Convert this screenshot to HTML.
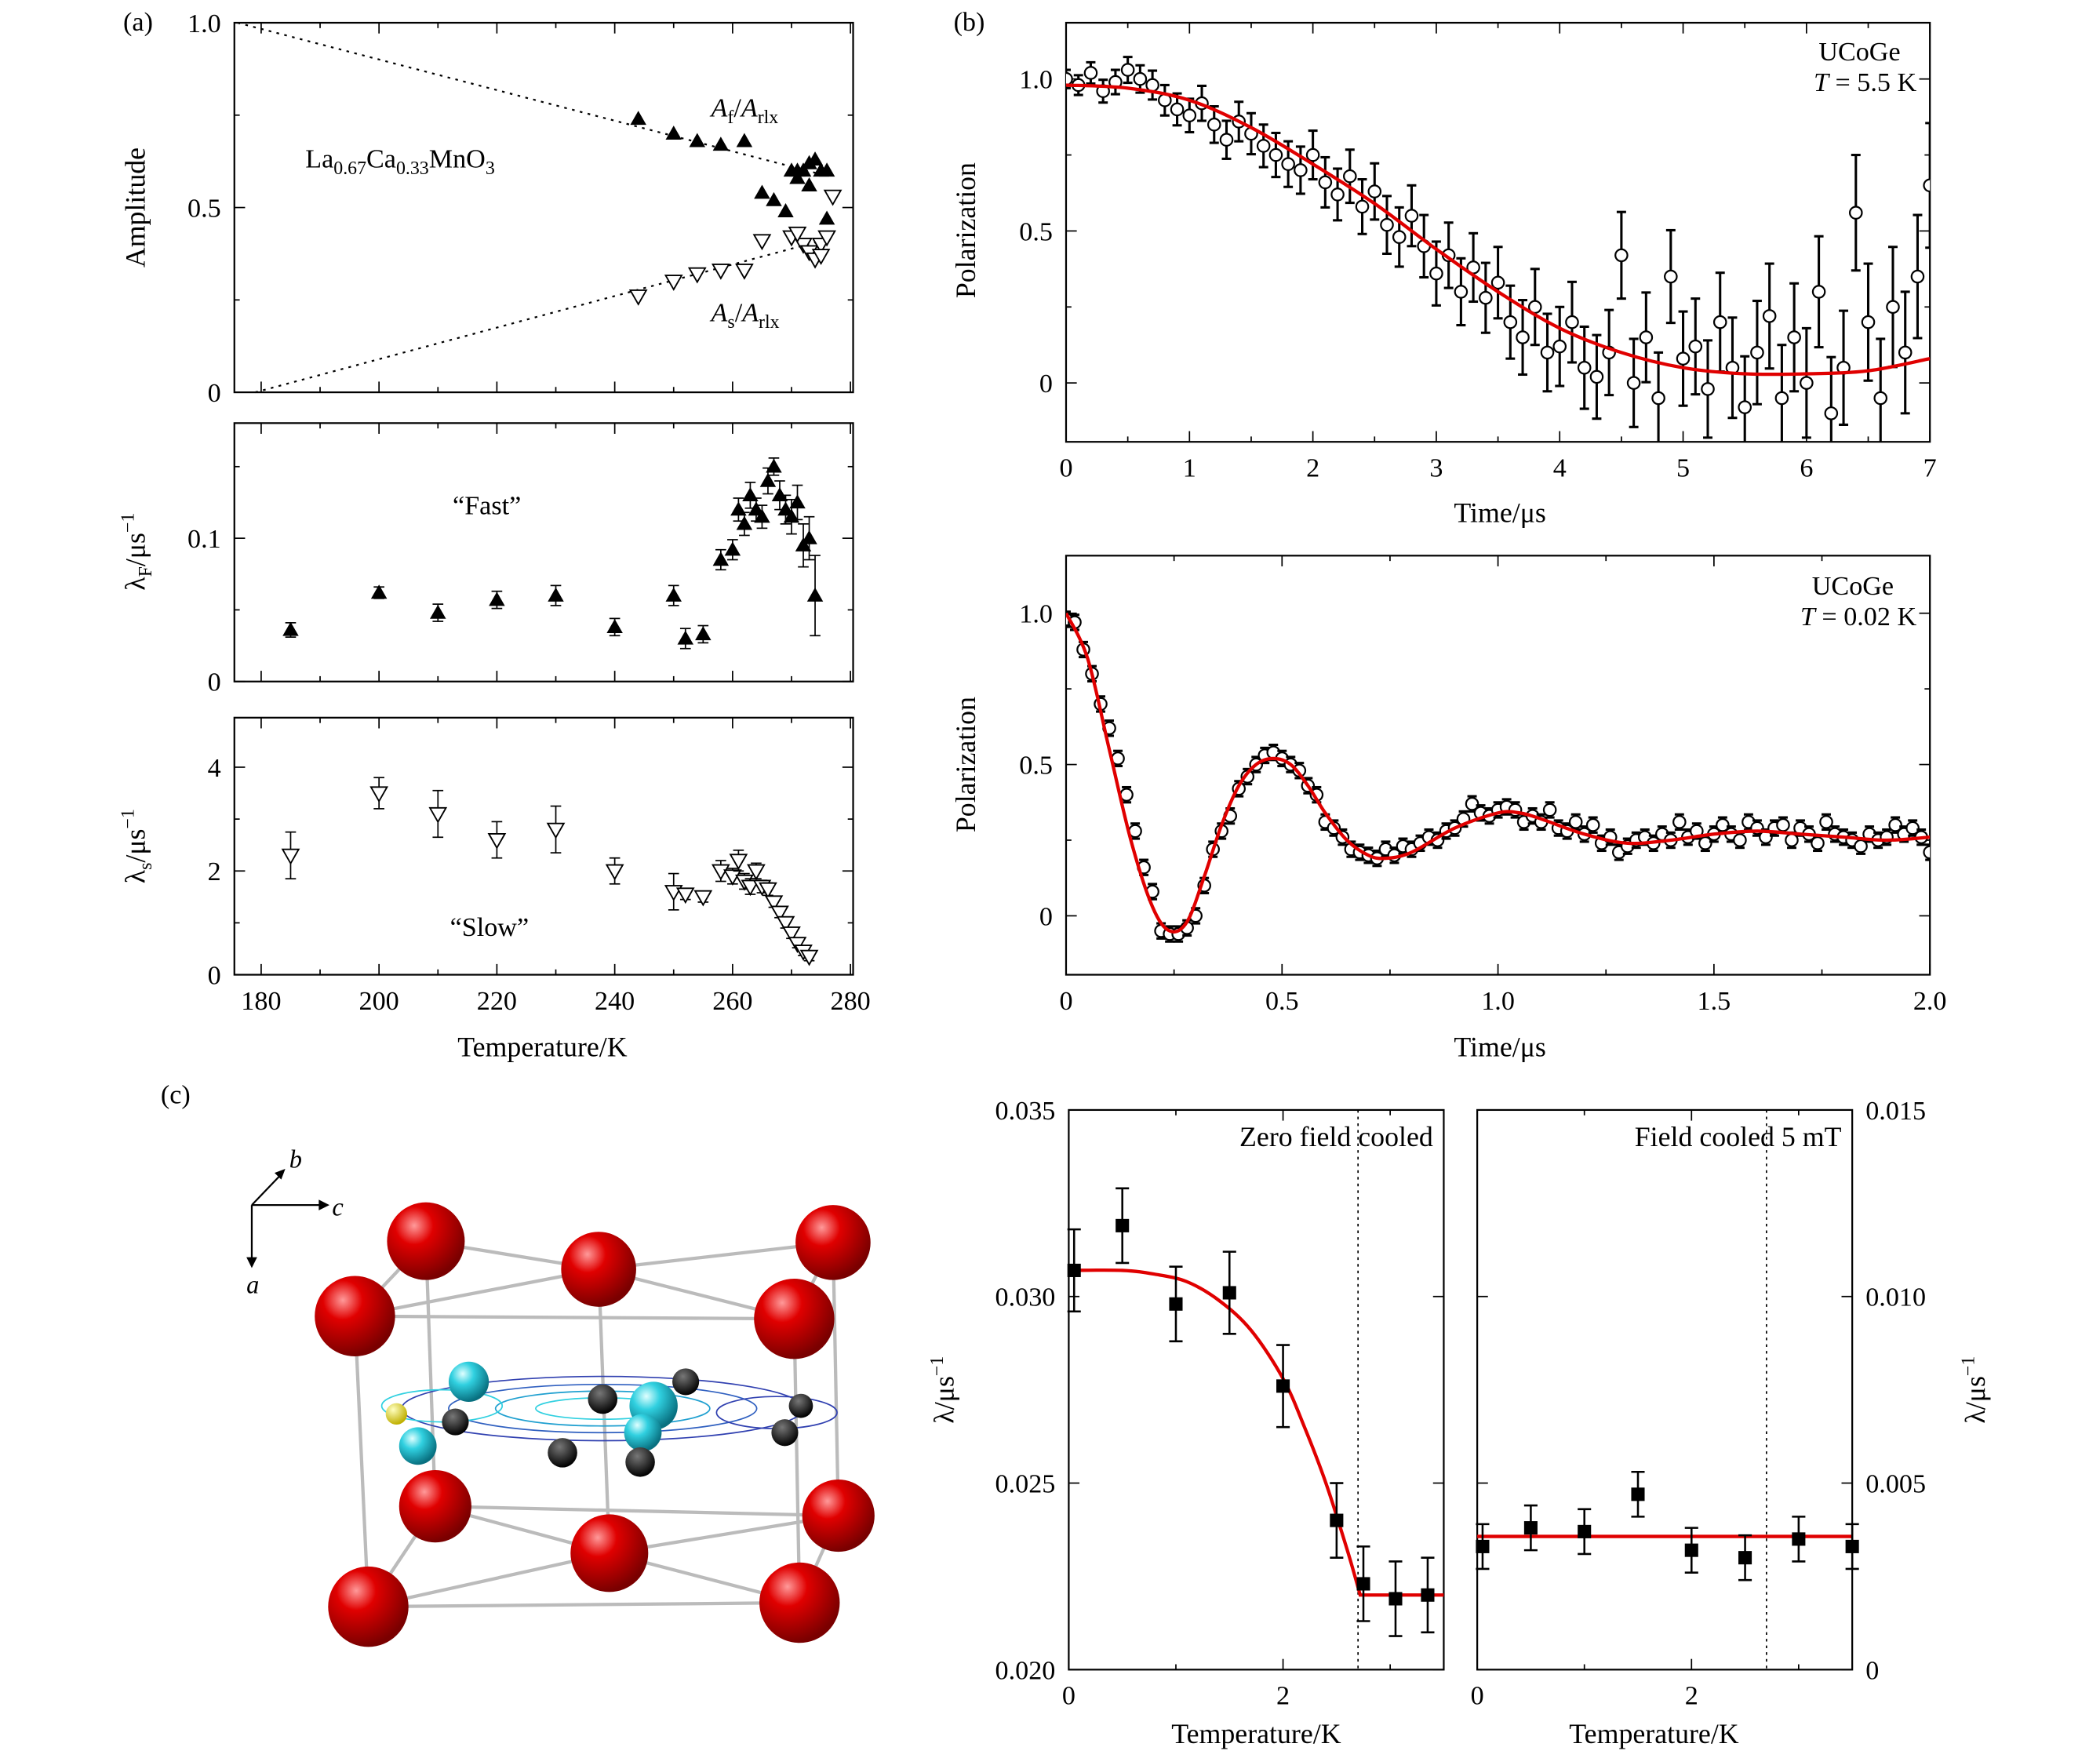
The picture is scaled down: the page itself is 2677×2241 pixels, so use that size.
<!DOCTYPE html>
<html><head><meta charset="utf-8"><style>
html,body{margin:0;padding:0;background:#fff;}
svg{display:block;font-family:"Liberation Serif",serif;}
</style></head><body>
<svg id="fig" width="2677" height="2241" viewBox="0 0 1568 1313" preserveAspectRatio="none" xmlns="http://www.w3.org/2000/svg">
<defs>
<radialGradient id="red" cx="35%" cy="30%" r="70%"><stop offset="0" stop-color="#ff9a9a"/><stop offset="0.35" stop-color="#e00000"/><stop offset="1" stop-color="#7a0000"/></radialGradient>
<radialGradient id="cyan" cx="35%" cy="30%" r="70%"><stop offset="0" stop-color="#e0ffff"/><stop offset="0.4" stop-color="#30d0e0"/><stop offset="1" stop-color="#087080"/></radialGradient>
<radialGradient id="blk" cx="40%" cy="30%" r="70%"><stop offset="0" stop-color="#777"/><stop offset="1" stop-color="#000"/></radialGradient>
<radialGradient id="yel" cx="35%" cy="30%" r="70%"><stop offset="0" stop-color="#ffffc0"/><stop offset="1" stop-color="#c0b000"/></radialGradient>
<clipPath id="clipB1"><rect x="796" y="17" width="645" height="313"/></clipPath>
<clipPath id="clipB2"><rect x="796" y="415" width="645" height="313"/></clipPath>
</defs>
<g id="crystal">
 <g stroke="#bbb" stroke-width="2.5" fill="none">
  <line x1="318" y1="927" x2="447" y2="948"/><line x1="447" y1="948" x2="622" y2="928"/>
  <line x1="265" y1="983" x2="593" y2="985"/><line x1="318" y1="927" x2="265" y2="983"/>
  <line x1="622" y1="928" x2="593" y2="985"/><line x1="265" y1="983" x2="275" y2="1200"/>
  <line x1="593" y1="985" x2="597" y2="1197"/><line x1="318" y1="927" x2="325" y2="1125"/>
  <line x1="622" y1="928" x2="626" y2="1132"/><line x1="275" y1="1200" x2="597" y2="1197"/>
  <line x1="325" y1="1125" x2="626" y2="1132"/><line x1="275" y1="1200" x2="325" y2="1125"/>
  <line x1="597" y1="1197" x2="626" y2="1132"/><line x1="447" y1="948" x2="455" y2="1160"/>
  <line x1="325" y1="1125" x2="455" y2="1160"/><line x1="455" y1="1160" x2="626" y2="1132"/>
  <line x1="275" y1="1200" x2="455" y2="1160"/><line x1="455" y1="1160" x2="597" y2="1197"/>
  <line x1="265" y1="983" x2="447" y2="948"/><line x1="447" y1="948" x2="593" y2="985"/>
 </g>
 <g fill="none" stroke-width="1">
  <ellipse cx="450" cy="1052" rx="150" ry="24" stroke="#3040b0"/>
  <ellipse cx="450" cy="1052" rx="115" ry="18" stroke="#3060c0"/>
  <ellipse cx="450" cy="1052" rx="80" ry="13" stroke="#20a0d0"/>
  <ellipse cx="450" cy="1052" rx="50" ry="8" stroke="#30d0e0"/>
  <ellipse cx="330" cy="1050" rx="45" ry="12" stroke="#30d0e0"/>
  <ellipse cx="580" cy="1055" rx="45" ry="12" stroke="#3040b0"/>
 </g>
 <circle cx="350" cy="1032" r="15" fill="url(#cyan)"/><circle cx="488" cy="1050" r="18" fill="url(#cyan)"/>
 <circle cx="312" cy="1080" r="14" fill="url(#cyan)"/><circle cx="480" cy="1070" r="14" fill="url(#cyan)"/>
 <circle cx="296" cy="1056" r="8" fill="url(#yel)"/>
 <circle cx="340" cy="1062" r="10" fill="url(#blk)"/><circle cx="450" cy="1045" r="11" fill="url(#blk)"/>
 <circle cx="512" cy="1032" r="10" fill="url(#blk)"/><circle cx="420" cy="1085" r="11" fill="url(#blk)"/>
 <circle cx="478" cy="1092" r="11" fill="url(#blk)"/><circle cx="586" cy="1070" r="10" fill="url(#blk)"/>
 <circle cx="598" cy="1050" r="9" fill="url(#blk)"/>
 <g fill="url(#red)">
  <circle cx="318" cy="927" r="29"/><circle cx="447" cy="948" r="28"/><circle cx="622" cy="928" r="28"/>
  <circle cx="265" cy="983" r="30"/><circle cx="593" cy="985" r="30"/><circle cx="325" cy="1125" r="27"/>
  <circle cx="626" cy="1132" r="27"/><circle cx="455" cy="1160" r="29"/><circle cx="275" cy="1200" r="30"/>
  <circle cx="597" cy="1197" r="30"/>
 </g>
 <g stroke="#000" stroke-width="1.3" fill="none">
  <line x1="188" y1="900" x2="211" y2="876"/><line x1="188" y1="900" x2="240" y2="900"/><line x1="188" y1="900" x2="188" y2="942"/>
 </g>
 <g fill="#000"><path d="M213,873 l-8,3 l5,5z"/><path d="M246,900 l-8,-4 l0,8z"/><path d="M188,947 l-4,-8 l8,0z"/></g>
 <g font-style="italic" font-size="19"><text x="216" y="872">b</text><text x="248" y="908">c</text><text x="184" y="966">a</text></g>
</g>
<g id="panel-labels" font-size="20">
 <text x="92" y="23">(a)</text>
 <text x="712" y="23">(b)</text>
 <text x="120" y="824">(c)</text>
</g>
<g id="plots"></g>
</svg>
<script>
// ---------- data ----------
const afT=[244,250,254,258,262,265,267,269,270,271,272,273,274,275,276,276,273,271];
const afV=[0.74,0.70,0.68,0.67,0.68,0.54,0.52,0.49,0.60,0.60,0.60,0.62,0.63,0.60,0.60,0.47,0.56,0.58];
const asT=[244,250,254,258,262,265,270,272,273,274,275,276,277,271,275];
const asV=[0.26,0.30,0.32,0.33,0.33,0.41,0.42,0.40,0.38,0.36,0.40,0.42,0.53,0.43,0.37];
const lfT=[185,200,210,220,230,240,250,252,255,258,260,261,262,263,264,265,266,267,268,269,270,271,272,273,274];
const lfV=[0.036,0.062,0.048,0.057,0.060,0.038,0.060,0.030,0.033,0.085,0.092,0.120,0.110,0.130,0.120,0.115,0.140,0.150,0.130,0.120,0.115,0.125,0.095,0.100,0.060];
const lfE=[0.005,0.004,0.006,0.006,0.007,0.006,0.007,0.007,0.006,0.007,0.007,0.008,0.008,0.009,0.008,0.008,0.009,0.006,0.010,0.010,0.012,0.012,0.015,0.015,0.028];
const lsT=[185,200,210,220,230,240,250,252,255,258,260,261,262,263,264,265,266,267,268,269,270,271,272,273];
const lsV=[2.3,3.5,3.1,2.6,2.8,2.0,1.6,1.55,1.5,2.0,1.9,2.2,1.8,1.7,2.0,1.7,1.65,1.4,1.2,1.0,0.8,0.6,0.45,0.35];
const lsE=[0.45,0.3,0.45,0.35,0.45,0.25,0.35,0.1,0.1,0.2,0.15,0.2,0.15,0.15,0.15,0.12,0.12,0.1,0.1,0.1,0.1,0.08,0.08,0.08];
const b1Step=0.1;
const b1V=[1.00,0.98,1.02,0.96,0.99,1.03,1.00,0.98,0.93,0.90,0.88,0.92,0.85,0.80,0.86,0.82,0.78,0.75,0.72,0.70,0.75,0.66,0.62,0.68,0.58,0.63,0.52,0.48,0.55,0.45,0.36,0.42,0.30,0.38,0.28,0.33,0.20,0.15,0.25,0.10,0.12,0.20,0.05,0.02,0.10,0.42,0.00,0.15,-0.05,0.35,0.08,0.12,-0.02,0.20,0.05,-0.08,0.10,0.22,-0.05,0.15,0.00,0.30,-0.10,0.05,0.56,0.20,-0.05,0.25,0.10,0.35,0.65];
const b1FitT=[0,0.5,1,1.5,2,2.5,3,3.5,4,4.5,5,5.5,6,6.5,7];
const b1FitV=[0.98,0.97,0.93,0.84,0.72,0.59,0.44,0.30,0.18,0.10,0.05,0.03,0.03,0.04,0.08];
const b2Step=0.02;
const b2V=[0.98,0.97,0.88,0.80,0.70,0.62,0.52,0.40,0.28,0.16,0.08,-0.05,-0.06,-0.06,-0.04,0.00,0.10,0.22,0.28,0.33,0.42,0.46,0.50,0.53,0.54,0.52,0.50,0.48,0.43,0.40,0.31,0.29,0.26,0.22,0.21,0.20,0.19,0.22,0.20,0.23,0.22,0.24,0.26,0.25,0.28,0.29,0.32,0.37,0.34,0.33,0.35,0.36,0.35,0.31,0.33,0.31,0.35,0.29,0.28,0.31,0.27,0.30,0.24,0.26,0.21,0.23,0.25,0.26,0.24,0.27,0.25,0.31,0.26,0.28,0.24,0.27,0.30,0.27,0.25,0.31,0.29,0.26,0.29,0.30,0.25,0.29,0.27,0.24,0.31,0.27,0.26,0.25,0.23,0.27,0.25,0.26,0.30,0.27,0.29,0.26,0.21];
const b2FitT=[0,0.05,0.1,0.15,0.2,0.24,0.28,0.32,0.36,0.4,0.44,0.48,0.52,0.56,0.6,0.65,0.7,0.74,0.8,0.9,1.0,1.05,1.1,1.2,1.3,1.4,1.5,1.6,1.7,1.8,1.9,2.0];
const b2FitV=[1.0,0.85,0.55,0.25,0.03,-0.05,-0.02,0.13,0.30,0.43,0.50,0.52,0.50,0.43,0.34,0.25,0.20,0.19,0.21,0.29,0.34,0.34,0.32,0.27,0.24,0.25,0.27,0.28,0.27,0.26,0.25,0.26];
const c1T=[0.05,0.5,1.0,1.5,2.0,2.5,2.75,3.05,3.35];
const c1V=[0.0307,0.0319,0.0298,0.0301,0.0276,0.0240,0.0223,0.0219,0.0220];
const c1E=[0.0011,0.0010,0.0010,0.0011,0.0011,0.0010,0.0010,0.0010,0.0010];
const c1FitT=[0,0.5,0.8,1.1,1.4,1.7,2.0,2.2,2.4,2.6,2.72,3.5];
const c1FitV=[0.0307,0.0307,0.0306,0.0304,0.0299,0.0291,0.0278,0.0265,0.0250,0.0232,0.0220,0.0220];
const c2T=[0.05,0.5,1.0,1.5,2.0,2.5,3.0,3.5];
const c2V=[0.0033,0.0038,0.0037,0.0047,0.0032,0.0030,0.0035,0.0033];
const c2E=[0.0006,0.0006,0.0006,0.0006,0.0006,0.0006,0.0006,0.0006];
const c2Fit=[0.00357];
// ---------- helpers ----------
const NS="http://www.w3.org/2000/svg";
const root=document.getElementById('plots');
function mk(tag,attrs,parent){const e=document.createElementNS(NS,tag);for(const k in attrs)e.setAttribute(k,attrs[k]);(parent||root).appendChild(e);return e;}
function txt(s,x,y,opt,parent){const e=mk('text',Object.assign({x:x,y:y,'font-size':20},opt||{}),parent);e.innerHTML=s;return e;}
function scale(d0,d1,p0,p1){return v=>p0+(v-d0)*(p1-p0)/(d1-d0);}
function frame(x0,y0,x1,y1,name){const r=mk('rect',{x:x0,y:y0,width:x1-x0,height:y1-y0,fill:'none',stroke:'#000','stroke-width':1.3});

return r;}
function xticks(sx,vals,labels,y0,y1,name,minor){vals.forEach((v,i)=>{const x=sx(v);mk('line',{x1:x,x2:x,y1:y1,y2:y1-8,stroke:'#000'});mk('line',{x1:x,x2:x,y1:y0,y2:y0+8,stroke:'#000'});
if(labels){const t=txt(labels[i],x,y1+26,{'text-anchor':'middle'});

}});
(minor||[]).forEach(v=>{const x=sx(v);mk('line',{x1:x,x2:x,y1:y1,y2:y1-4,stroke:'#000'});mk('line',{x1:x,x2:x,y1:y0,y2:y0+4,stroke:'#000'});});}
function yticks(sy,vals,labels,x0,x1,name,side,minor){vals.forEach((v,i)=>{const y=sy(v);mk('line',{x1:x0,x2:x0+8,y1:y,y2:y,stroke:'#000'});mk('line',{x1:x1,x2:x1-8,y1:y,y2:y,stroke:'#000'});
if(labels){const t=side==='r'?txt(labels[i],x1+10,y+7,{}):txt(labels[i],x0-10,y+7,{'text-anchor':'end'});

}});
(minor||[]).forEach(v=>{const y=sy(v);mk('line',{x1:x0,x2:x0+4,y1:y,y2:y,stroke:'#000'});mk('line',{x1:x1,x2:x1-4,y1:y,y2:y,stroke:'#000'});});}
function ylabel(s,x,y,name){const t=txt(s,x,y,{transform:`rotate(-90 ${x} ${y})`,'text-anchor':'middle','font-size':21});

}
function errbar(g,x,y1,y2,w,sw){mk('line',{x1:x,x2:x,y1:y1,y2:y2,stroke:'#000','stroke-width':sw},g);mk('line',{x1:x-w,x2:x+w,y1:y1,y2:y1,stroke:'#000','stroke-width':sw},g);mk('line',{x1:x-w,x2:x+w,y1:y2,y2:y2,stroke:'#000','stroke-width':sw},g);}
function triUp(g,x,y,s){return mk('path',{d:`M${x},${y-s} L${x+s},${y+s*0.75} L${x-s},${y+s*0.75}Z`,fill:'#000'},g);}
function triDn(g,x,y,s){return mk('path',{d:`M${x},${y+s} L${x+s},${y-s*0.75} L${x-s},${y-s*0.75}Z`,fill:'#fff',stroke:'#000','stroke-width':1.1},g);}
function smooth(pts){let d=`M${pts[0][0]},${pts[0][1]}`;for(let i=0;i<pts.length-1;i++){const p0=pts[i-1]||pts[i],p1=pts[i],p2=pts[i+1],p3=pts[i+2]||p2;
d+=` C${p1[0]+(p2[0]-p0[0])/6},${p1[1]+(p2[1]-p0[1])/6} ${p2[0]-(p3[0]-p1[0])/6},${p2[1]-(p3[1]-p1[1])/6} ${p2[0]},${p2[1]}`;}return d;}

// ---------- panel (a) ----------
const ax=scale(180,280,195,635);
frame(175,17,637,293,'amplitude-plot-frame');
const a1y=scale(0,1,293,17);
xticks(ax,[180,200,220,240,260,280],null,17,293,'a1-x',[190,210,230,250,270]);
yticks(a1y,[0,0.5,1],['0','0.5','1.0'],175,637,'amplitude-y',null,[0.25,0.75]);
ylabel('Amplitude',108,155,'amplitude-y-title');
let g=mk('g',{});


mk('line',{x1:ax(176),y1:a1y(1.0),x2:ax(275),y2:a1y(0.59),stroke:'#000','stroke-dasharray':'2,4','stroke-width':1.3},g);
mk('line',{x1:ax(179),y1:a1y(0),x2:ax(275),y2:a1y(0.41),stroke:'#000','stroke-dasharray':'2,4','stroke-width':1.3},g);
g=mk('g',{});


afT.forEach((t,i)=>{const p=triUp(g,ax(t),a1y(afV[i]),6);

});
g=mk('g',{});


asT.forEach((t,i)=>{const p=triDn(g,ax(t),a1y(asV[i]),6);

});
let t1=txt('La<tspan font-size="14" dy="5">0.67</tspan><tspan dy="-5">Ca</tspan><tspan font-size="14" dy="5">0.33</tspan><tspan dy="-5">MnO</tspan><tspan font-size="14" dy="5">3</tspan>',228,125,{});


t1=txt('<tspan font-style="italic">A</tspan><tspan font-size="14" dy="5">f</tspan><tspan dy="-5">/</tspan><tspan font-style="italic">A</tspan><tspan font-size="14" dy="5">rlx</tspan>',531,87,{});


t1=txt('<tspan font-style="italic">A</tspan><tspan font-size="14" dy="5">s</tspan><tspan dy="-5">/</tspan><tspan font-style="italic">A</tspan><tspan font-size="14" dy="5">rlx</tspan>',531,240,{});


frame(175,316,637,509,'lambda-f-plot-frame');
const a2y=scale(0,0.1,509,402);
xticks(ax,[180,200,220,240,260,280],null,316,509,'a2-x',[190,210,230,250,270]);
yticks(a2y,[0,0.1],['0','0.1'],175,637,'lambda-f-y',null,[0.05,0.15]);
ylabel('λ<tspan font-size="14" dy="5">F</tspan><tspan dy="-5">/μs</tspan><tspan font-size="14" dy="-8">−1</tspan>',108,412,'lambda-f-y-title');
g=mk('g',{});


lfT.forEach((t,i)=>{errbar(g,ax(t),a2y(lfV[i]+lfE[i]),a2y(lfV[i]-lfE[i]),4,1);const p=triUp(g,ax(t),a2y(lfV[i]),6);

});
t1=txt('“Fast”',338,384,{});


frame(175,536,637,728,'lambda-s-plot-frame');
const a3y=scale(0,4,728,573);
xticks(ax,[180,200,220,240,260,280],['180','200','220','240','260','280'],536,728,'temperature-x',[190,210,230,250,270]);
yticks(a3y,[0,2,4],['0','2','4'],175,637,'lambda-s-y',null,[1,3]);
ylabel('λ<tspan font-size="14" dy="5">s</tspan><tspan dy="-5">/μs</tspan><tspan font-size="14" dy="-8">−1</tspan>',108,632,'lambda-s-y-title');
g=mk('g',{});


lsT.forEach((t,i)=>{errbar(g,ax(t),a3y(lsV[i]+lsE[i]),a3y(lsV[i]-lsE[i]),4,1);const p=triDn(g,ax(t),a3y(lsV[i]),6);

});
t1=txt('“Slow”',336,699,{});


t1=txt('Temperature/K',405,789,{'text-anchor':'middle','font-size':21});



// ---------- panel (b) top ----------
frame(796,17,1441,330,'b-top-plot-frame');
const b1x=scale(0,7,796,1441), b1y=scale(0,1,286,59);
xticks(b1x,[0,1,2,3,4,5,6,7],['0','1','2','3','4','5','6','7'],17,330,'time-x',[0.5,1.5,2.5,3.5,4.5,5.5,6.5]);
yticks(b1y,[0,0.5,1],['0','0.5','1.0'],796,1441,'polarization-y',null,[0.25,0.75]);
ylabel('Polarization',728,172,'b-top-y-title');
t1=txt('Time/μs',1120,390,{'text-anchor':'middle','font-size':21});


t1=txt('UCoGe',1419,45,{'text-anchor':'end'});


t1=txt('<tspan font-style="italic">T</tspan> = 5.5 K',1431,68,{'text-anchor':'end'});


g=mk('g',{'clip-path':'url(#clipB1)'});


b1V.forEach((v,i)=>{const t=i*b1Step,e=0.03+0.025*t;const x=b1x(t),y=b1y(v);errbar(g,x,b1y(v+e),b1y(v-e),3.5,1.8);
const c=mk('circle',{cx:x,cy:y,r:4.5,fill:'#fff',stroke:'#000','stroke-width':1.3},g);

});
let fit=mk('path',{d:smooth(b1FitT.map((t,i)=>[b1x(t),b1y(b1FitV[i])])),fill:'none',stroke:'#e00000','stroke-width':2.5,'clip-path':'url(#clipB1)'});



// ---------- panel (b) bottom ----------
frame(796,415,1441,728,'b-bottom-plot-frame');
const b2x=scale(0,2,796,1441), b2y=scale(0,1,684,458);
xticks(b2x,[0,0.5,1,1.5,2],['0','0.5','1.0','1.5','2.0'],415,728,'time-x2',[0.25,0.75,1.25,1.75]);
yticks(b2y,[0,0.5,1],['0','0.5','1.0'],796,1441,'polarization-y2',null,[0.25,0.75]);
ylabel('Polarization',728,571,'b-bottom-y-title');
t1=txt('Time/μs',1120,789,{'text-anchor':'middle','font-size':21});


t1=txt('UCoGe',1414,444,{'text-anchor':'end'});


t1=txt('<tspan font-style="italic">T</tspan> = 0.02 K',1431,467,{'text-anchor':'end'});


g=mk('g',{'clip-path':'url(#clipB2)'});


b2V.forEach((v,i)=>{const t=i*b2Step,e=0.025;const x=b2x(t),y=b2y(v);errbar(g,x,b2y(v+e),b2y(v-e),3.5,1.8);
const c=mk('circle',{cx:x,cy:y,r:4.5,fill:'#fff',stroke:'#000','stroke-width':1.3},g);

});
fit=mk('path',{d:smooth(b2FitT.map((t,i)=>[b2x(t),b2y(b2FitV[i])])),fill:'none',stroke:'#e00000','stroke-width':2.5,'clip-path':'url(#clipB2)'});



// ---------- panel (c) left ----------
frame(798,829,1078,1247,'zfc-plot-frame');
const c1x=scale(0,2,798,958), c1y=scale(0.020,0.035,1247,829);
xticks(c1x,[0,2],['0','2'],829,1247,'zfc-x',[1,3]);
yticks(c1y,[0.020,0.025,0.030,0.035],['0.020','0.025','0.030','0.035'],798,1078,'zfc-y');
ylabel('λ/μs<tspan font-size="14" dy="-8">−1</tspan>',712,1038,'zfc-y-title');
t1=txt('Temperature/K',938,1302,{'text-anchor':'middle','font-size':21});


t1=txt('Zero field cooled',1070,856,{'text-anchor':'end','font-size':21});


mk('line',{x1:c1x(2.7),x2:c1x(2.7),y1:829,y2:1247,stroke:'#000','stroke-dasharray':'2,3'});
const c1pts=c1FitT.map((t,i)=>[c1x(t),c1y(c1FitV[i])]);
const lastP=c1pts.pop();
fit=mk('path',{d:smooth(c1pts)+` L${lastP[0]},${lastP[1]}`,fill:'none',stroke:'#e00000','stroke-width':2.5});


g=mk('g',{});


c1T.forEach((t,i)=>{errbar(g,c1x(t),c1y(c1V[i]+c1E[i]),c1y(c1V[i]-c1E[i]),5,1.5);const r=mk('rect',{x:c1x(t)-5,y:c1y(c1V[i])-5,width:10,height:10,fill:'#000'},g);

});

// ---------- panel (c) right ----------
frame(1103,829,1383,1247,'fc-plot-frame');
const c2x=scale(0,2,1103,1263), c2y=scale(0,0.015,1247,829);
xticks(c2x,[0,2],['0','2'],829,1247,'fc-x',[1,3]);
yticks(c2y,[0,0.005,0.010,0.015],['0','0.005','0.010','0.015'],1103,1383,'fc-y','r');
const ry=1482,rx=1038;const tl=txt('λ/μs<tspan font-size="14" dy="-8">−1</tspan>',ry,rx,{transform:`rotate(-90 ${ry} ${rx})`,'text-anchor':'middle','font-size':21});


t1=txt('Temperature/K',1235,1302,{'text-anchor':'middle','font-size':21});


t1=txt('Field cooled 5 mT',1375,856,{'text-anchor':'end','font-size':21});


mk('line',{x1:c2x(2.7),x2:c2x(2.7),y1:829,y2:1247,stroke:'#000','stroke-dasharray':'2,3'});
fit=mk('line',{x1:1103,x2:1383,y1:c2y(c2Fit[0]),y2:c2y(c2Fit[0]),stroke:'#e00000','stroke-width':2.5});


g=mk('g',{});


c2T.forEach((t,i)=>{errbar(g,c2x(t),c2y(c2V[i]+c2E[i]),c2y(c2V[i]-c2E[i]),5,1.5);const r=mk('rect',{x:c2x(t)-5,y:c2y(c2V[i])-5,width:10,height:10,fill:'#000'},g);

});
</script>
</body></html>
